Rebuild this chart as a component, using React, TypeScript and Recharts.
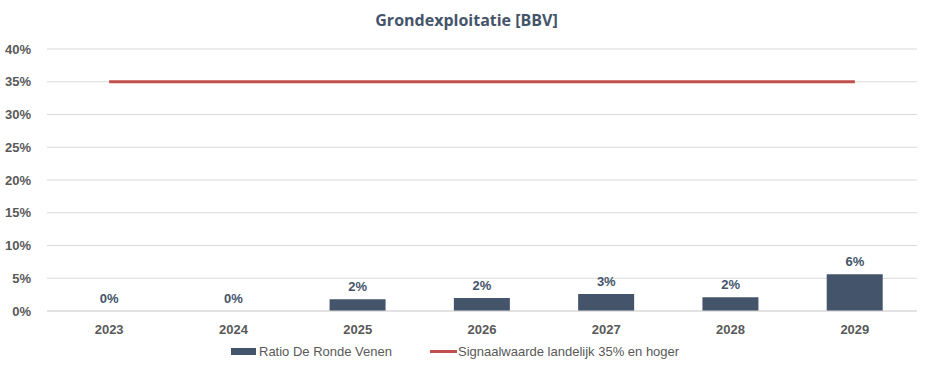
import { ComposedChart, CartesianGrid, XAxis, YAxis, Bar, Line, LabelList } from 'recharts';

const years = ['2023', '2024', '2025', '2026', '2027', '2028', '2029'];
const ratio = [0, 0, 1.8, 2.0, 2.6, 2.1, 5.6];
const signal = [35, 35, 35, 35, 35, 35, 35];
const yTicks = [0, 5, 10, 15, 20, 25, 30, 35, 40];

const barColor = '#44546A';
const lineColor = '#C0504D';
const axisText = '#595959';

const chartData = years.map((year, i) => ({ year, ratio: ratio[i], signal: signal[i] }));

const tickStyle = { fill: axisText, fontSize: 13, fontWeight: 700, fontFamily: 'Liberation Sans, Arial, sans-serif' };

export default function App() {
  return (
    <div style={{ position: 'absolute', left: 0, top: 0, width: 933, height: 373, background: '#fff' }}>
      <div
        style={{
          position: 'absolute',
          top: 9,
          left: 0,
          width: 933,
          textAlign: 'center',
          fontFamily: 'Open Sans, sans-serif',
          fontWeight: 700,
          fontSize: 16,
          color: barColor,
        }}
      >
        Grondexploitatie [BBV]
      </div>
      <ComposedChart width={933} height={373} data={chartData} margin={{ top: 49, right: 16, bottom: 32, left: 0 }}>
        <CartesianGrid vertical={false} stroke="#D9D9D9" />
        <XAxis
          dataKey="year"
          tickLine={false}
          axisLine={{ stroke: '#D9D9D9' }}
          tick={tickStyle}
          tickMargin={8}
          height={30}
        />
        <YAxis
          domain={[0, 40]}
          ticks={yTicks}
          tickFormatter={(v: number) => `${v}%`}
          tickLine={false}
          axisLine={false}
          tick={tickStyle}
          width={47}
          tickMargin={10}
        />
        <Bar dataKey="ratio" fill={barColor} barSize={56} isAnimationActive={false} />
        {/* invisible line carrying the bar value labels, so zero bars get a label too */}
        <Line dataKey="ratio" stroke="none" dot={false} activeDot={false} legendType="none" isAnimationActive={false}>
          <LabelList
            dataKey="ratio"
            position="top"
            offset={8}
            formatter={(v: number) => `${Math.round(v)}%`}
            style={{ fill: barColor, fontSize: 13, fontWeight: 700, fontFamily: 'Liberation Sans, Arial, sans-serif' }}
          />
        </Line>
        <Line dataKey="signal" stroke={lineColor} strokeWidth={3} dot={false} activeDot={false} isAnimationActive={false} />
      </ComposedChart>
      <div
        style={{
          position: 'absolute',
          top: 344,
          left: 231,
          display: 'flex',
          alignItems: 'center',
          fontFamily: 'Liberation Sans, Arial, sans-serif',
          fontSize: 13,
          color: axisText,
          whiteSpace: 'nowrap',
        }}
      >
        <span style={{ display: 'inline-block', width: 25, height: 7, background: barColor, marginRight: 3 }} />
        <span>Ratio De Ronde Venen</span>
        <span style={{ display: 'inline-block', width: 27, height: 3, background: lineColor, marginLeft: 38, marginRight: 1 }} />
        <span>Signaalwaarde landelijk 35% en hoger</span>
      </div>
    </div>
  );
}
